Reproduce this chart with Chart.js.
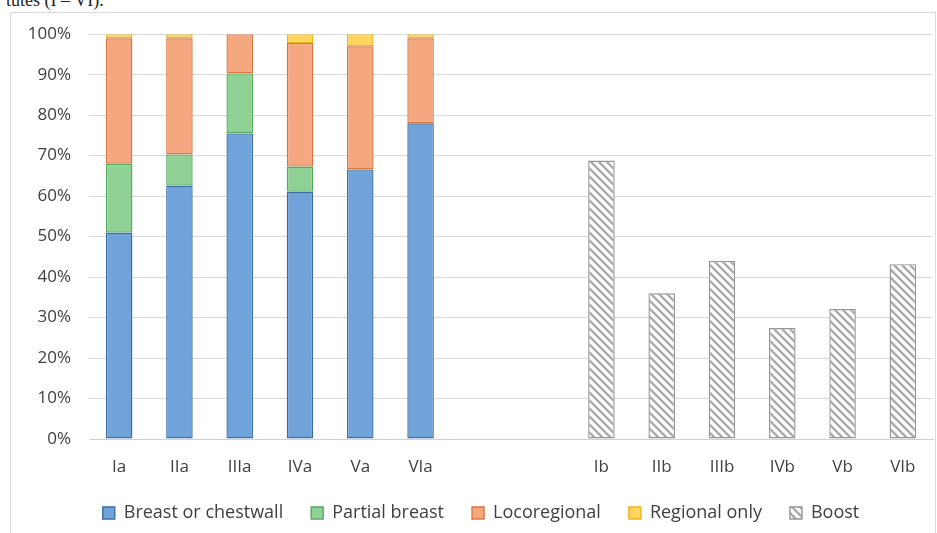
<!DOCTYPE html>
<html>
<head>
<meta charset="utf-8">
<script src="https://cdn.jsdelivr.net/npm/chart.js@4"></script>
<style>
    html, body { margin: 0; padding: 0; background: #fff; overflow: hidden; }
    #caption {
        position: absolute; left: 6px; top: -10px;
        font-family: "Liberation Serif", serif; font-size: 18px; color: #222;
    }
    #box {
        position: absolute; left: 10px; top: 12px; width: 926px; height: 530px;
        border: 1px solid #d9d9d9; box-sizing: border-box;
    }
    #wrap { position: absolute; left: 0; top: -7px; width: 924px; height: 535px; }
</style>
</head>
<body>
<div id="caption">tutes (I – VI).</div>
<div id="box"><div id="wrap"><canvas id="chart"></canvas></div></div>
<script>
    const categories = ['Ia', 'IIa', 'IIIa', 'IVa', 'Va', 'VIa', '', '', 'Ib', 'IIb', 'IIIb', 'IVb', 'Vb', 'VIb'];
    const breastOrChestwall = [51, 62.6, 75.5, 61.1, 66.6, 78, null, null, null, null, null, null, null, null];
    const partialBreast = [17, 7.7, 14.8, 6.2, null, null, null, null, null, null, null, null, null, null];
    const locoregional = [31, 28.7, 9.7, 30.5, 30.4, 21, null, null, null, null, null, null, null, null];
    const regionalOnly = [1, 1, null, 2.2, 3, 1, null, null, null, null, null, null, null, null];
    const boost = [null, null, null, null, null, null, null, null, 68.8, 36, 44, 27.4, 32.1, 43.2];
    const yTicks = [0, 10, 20, 30, 40, 50, 60, 70, 80, 90, 100];

    function makeHatch() {
        const size = 8;
        const c = document.createElement('canvas');
        c.width = size;
        c.height = size;
        const ctx = c.getContext('2d');
        ctx.fillStyle = '#ffffff';
        ctx.fillRect(0, 0, size, size);
        ctx.strokeStyle = '#ababab';
        ctx.lineWidth = 2.4;
        ctx.beginPath();
        ctx.moveTo(-2, -2); ctx.lineTo(size + 2, size + 2);
        ctx.moveTo(-2, size - 2); ctx.lineTo(2, size + 2);
        ctx.moveTo(size - 2, -2); ctx.lineTo(size + 2, 2);
        ctx.stroke();
        return ctx.createPattern(c, 'repeat');
    }

    const hatch = makeHatch();
    const textColor = '#404040';
    const fontFamily = '"Open Sans", Lato, sans-serif';

    const datasets = [
        { label: 'Breast or chestwall', data: breastOrChestwall, backgroundColor: '#6fa3d9', borderColor: '#3b6c9e' },
        { label: 'Partial breast', data: partialBreast, backgroundColor: '#90d195', borderColor: '#55a860' },
        { label: 'Locoregional', data: locoregional, backgroundColor: '#f5a880', borderColor: '#d9753f' },
        { label: 'Regional only', data: regionalOnly, backgroundColor: '#ffd55e', borderColor: '#f2b31a' },
        { label: 'Boost', data: boost, backgroundColor: hatch, borderColor: '#969696' }
    ].map((ds) => Object.assign(ds, {
        borderWidth: 1.4,
        borderSkipped: false,
        categoryPercentage: 1,
        barPercentage: 0.44
    }));

    new Chart(document.getElementById('chart'), {
        type: 'bar',
        data: { labels: categories, datasets },
        options: {
            responsive: true,
            maintainAspectRatio: false,
            animation: false,
            layout: { padding: { top: 9, right: 2, bottom: 9, left: 18 } },
            plugins: {
                tooltip: { enabled: false },
                legend: {
                    position: 'bottom',
                    labels: {
                        color: textColor,
                        font: { family: fontFamily, size: 18 },
                        boxWidth: 12,
                        boxHeight: 12,
                        padding: 28
                    }
                }
            },
            scales: {
                x: {
                    stacked: true,
                    grid: { display: false },
                    border: { color: '#d0d0d0' },
                    ticks: { color: textColor, font: { family: fontFamily, size: 17 }, padding: 10 },
                    afterFit: (scale) => { scale.height = 37; }
                },
                y: {
                    stacked: true,
                    min: 0,
                    max: 100,
                    afterBuildTicks: (scale) => { scale.ticks = yTicks.map((v) => ({ value: v })); },
                    grid: { color: '#d9d9d9', drawTicks: false },
                    border: { display: false },
                    ticks: {
                        color: textColor,
                        font: { family: fontFamily, size: 17 },
                        padding: 18,
                        callback: (value) => value + '%'
                    },
                    afterFit: (scale) => { scale.width = 60; }
                }
            }
        }
    });
</script>
</body>
</html>
